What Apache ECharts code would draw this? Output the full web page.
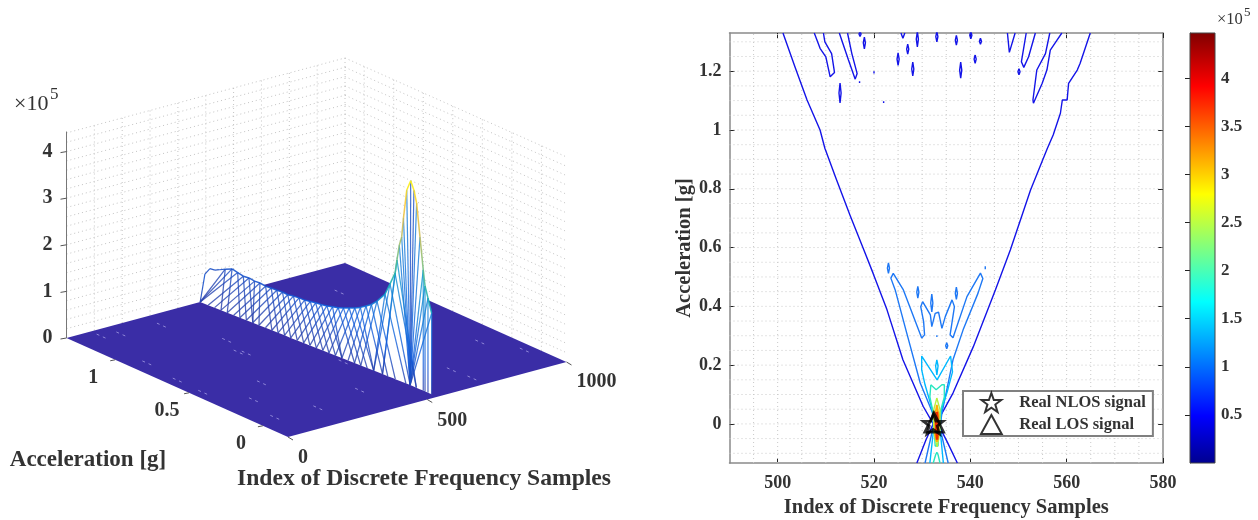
<!DOCTYPE html>
<html>
<head>
<meta charset="utf-8">
<style>
  html, body { margin: 0; padding: 0; background: #fff; }
  #chart { width: 1258px; height: 520px; }
</style>
<script src="https://cdn.jsdelivr.net/npm/echarts@6/dist/echarts.min.js"></script>
</head>
<body>
<div id="chart"></div>
<script>
const SERIF = '"Liberation Serif", "Times New Roman", serif';

// ---- left panel: mesh ridge, one entry per mesh row
const ridgeAccel = [-0.132, -0.107, -0.087, -0.075, -0.053, -0.03, -0.012, 0.01, 0.037, 0.059, 0.071, 0.087, 0.103, 0.116, 0.15, 0.184,
  0.24, 0.28, 0.32, 0.36, 0.40, 0.44, 0.48, 0.52, 0.56, 0.60, 0.64, 0.68, 0.72, 0.76, 0.80, 0.84, 0.88, 0.92, 0.96, 1.00,
  1.04, 1.08, 1.12, 1.16, 1.20, 1.24, 1.28, 1.33];
const ridgeFreq = [536, 536, 536, 536, 536, 536, 536, 536, 536, 536, 536, 536, 536, 536, 536, 536,
  537, 538, 540, 541, 542, 543, 544, 546, 547, 548, 549, 550, 552, 553, 554, 555, 556, 558, 559, 560,
  561, 562, 564, 565, 566, 567, 568, 570];
const ridgeCrest = [1.74, 2.03, 2.26, 2.59, 3.26, 3.96, 4.21, 4.38, 4.14, 3.51, 3.09, 2.89, 2.55, 2.25, 1.97, 1.70,
  1.47, 1.34, 1.25, 1.16, 1.09, 1.03, 0.97, 0.92, 0.88, 0.84, 0.81, 0.79, 0.76, 0.73, 0.72, 0.70, 0.67, 0.67, 0.65, 0.64,
  0.62, 0.63, 0.61, 0.62, 0.60, 0.62, 0.64, 0.56];
const ridgeFoot = [536, 536, 536, 536, 535, 535, 535, 534, 533, 532, 532, 531, 530, 530, 528, 527,
  525, 523, 521, 520, 518, 517, 515, 513, 512, 510, 508, 507, 505, 503, 502, 500, 499, 497, 495, 494,
  492, 490, 489, 487, 486, 484, 482, 480];
const backEdgeFreq = [480, 497, 515, 533, 550];
const backEdgeZ = [0, 0.57, 0.66, 0.6, 0.58];
const speckFreq = [277, 142, 87, 55, 314, 327, 510, 212, 109, 213, 395, 500, 906, 708, 841, 37, 33, 69, 347, 703, 965];
const speckAccel = [1.21, 1.23, 1.26, 0.89, 0.76, 0.73, 0.67, 0.41, 0.27, 0.03, 0.09, 0.40, 0.24, -0.08, 1.07, 0.65, 0.47, 0.05, 0.90, 0.05, 0.05];

const zTicks = [0, 1, 2, 3, 4];
const accelTicks = [0, 0.5, 1];
const freqTicks = [0, 500, 1000];
const wallFreqLines = [0, 100, 200, 300, 400, 500, 600, 700, 800, 900, 1000];
const wallAccelLines = [0, 0.2, 0.4, 0.6, 0.8, 1, 1.2];
const wallZLines = [0.2, 0.4, 0.6, 0.8, 1, 1.2, 1.4, 1.6, 1.8, 2, 2.2, 2.4, 2.6, 2.8, 3, 3.2, 3.4, 3.6, 3.8, 4, 4.2, 4.4];

// ---- right panel: contour pieces per level, [sample index, acceleration]
const level1 = [
  [[501.1, 1.33], [503.6, 1.214], [506.1, 1.102], [508.8, 1.0], [509.8, 0.938], [512.1, 0.836], [515.0, 0.711], [517.9, 0.592], [519.8, 0.513], [522.7, 0.388], [526.0, 0.218], [530.2, 0.06], [532.3, 0], [530.8, -0.054], [528.9, -0.133]],
  [[564.9, 1.33], [562.8, 1.227], [562.2, 1.204], [560.4, 1.159], [560.1, 1.102], [559.1, 1.102], [558.7, 1.057], [557.2, 0.983], [556, 0.938], [552.5, 0.796], [548.3, 0.592], [545.2, 0.456], [540.6, 0.262], [536.4, 0.105], [533.7, 0.024], [533.3, 0], [535.2, -0.061], [537.3, -0.133]],
  [[507.6, 1.33], [508.8, 1.278], [510, 1.249], [510.9, 1.181], [511.2, 1.179], [511.8, 1.196], [511.2, 1.26], [509.8, 1.30], [509.5, 1.33]],
  [[512.8, 1.33], [514.7, 1.238], [516.1, 1.173], [516.5, 1.192], [515.4, 1.26], [514.5, 1.33]],
  [[525.6, 1.33], [526, 1.312], [526.4, 1.33]],
  [[547.7, 1.33], [548.1, 1.264], [549.3, 1.33]],
  [[551.6, 1.33], [550.6, 1.232], [551.1, 1.213], [552.1, 1.249], [553.5, 1.33]],
  [[556.5, 1.33], [555.6, 1.26], [553.8, 1.204], [553, 1.102], [553.1, 1.091], [554.9, 1.158], [555.9, 1.204], [556.6, 1.272], [558, 1.306], [559, 1.33]]
];
// small closed islands: [sample index, lower acceleration, upper acceleration]
const level1Islands = [[512.95, 1.092, 1.160], [518, 1.276, 1.316], [517.1, 1.318, 1.335], [529, 1.283, 1.335], [527, 1.258, 1.292], [525, 1.22, 1.262],
  [528.05, 1.184, 1.231], [533.05, 1.30, 1.335], [537.1, 1.289, 1.322], [538, 1.176, 1.231], [540.1, 1.31, 1.335], [542.1, 1.292, 1.312], [541, 1.227, 1.255],
  [520, 1.192, 1.200], [517, 1.160, 1.166], [522, 1.092, 1.098], [550.1, 1.188, 1.208]];
const level2 = [
  [[530.6, -0.133], [532.3, -0.01], [532.5, 0.024], [529.6, 0.139], [526.8, 0.309], [524.4, 0.456], [523.5, 0.496], [524, 0.512], [526.1, 0.456], [529.9, 0.292], [530.5, 0.303], [530.3, 0.348], [529.7, 0.399], [530.1, 0.416],
   [531.7, 0.371], [532, 0.331], [532.7, 0.376], [533.4, 0.380], [534.1, 0.325], [534.8, 0.365], [536.2, 0.422], [536.7, 0.399], [535.8, 0.303], [536.4, 0.293], [539.3, 0.433], [542.1, 0.513], [542.6, 0.495], [541.6, 0.445],
   [538.5, 0.320], [536.4, 0.218], [534.1, 0.037], [533.7, -0.014], [535.4, -0.133]]
];
const level2Islands = [[523, 0.512, 0.548], [529.1, 0.428, 0.468], [532, 0.381, 0.442], [537.1, 0.424, 0.465], [543.1, 0.526, 0.536], [535.1, 0.256, 0.276], [533.05, 0.296, 0.302]];
const level3 = [
  [[531.6, -0.133], [532.4, -0.014], [532.1, 0.048], [530.6, 0.133], [529.9, 0.184], [529.9, 0.231], [530.3, 0.231], [533.1, 0.150], [535.9, 0.231], [536.3, 0.231], [536.3, 0.177], [535.2, 0.109], [534.0, 0.048], [533.7, -0.014], [534.4, -0.133]],
  [[533.05, 0.218], [533.3, 0.197], [533.05, 0.167], [532.8, 0.197], [533.05, 0.218]]
];
const level4 = [
  [[531.8, 0.133], [532.9, 0.116], [534.1, 0.133], [534.6, 0.133], [534.6, 0.092], [533.7, 0.037], [533.5, -0.02], [533.3, -0.075], [532.7, -0.075], [532.5, -0.02], [532.3, 0.037], [531.6, 0.092], [531.8, 0.133]],
  [[532.3, -0.133], [532.8, -0.105], [533.05, -0.097], [533.3, -0.105], [533.7, -0.133]]
];
const level5 = [[[533.05, 0.088], [533.7, 0.048], [533.7, -0.027], [533.1, -0.078], [532.4, -0.027], [532.4, 0.048], [533.05, 0.088]]];
const level6 = [[[533.05, 0.065], [533.4, 0.031], [533.4, -0.037], [533.07, -0.061], [532.7, -0.037], [532.7, 0.031], [533.05, 0.065]]];
const level7 = [[[533.05, 0.041], [533.25, 0], [533.1, -0.054], [532.9, 0], [533.05, 0.041]]];

const nlosPoint = [[532.3, 0]];
const losPoint = [[532.5, 0.004]];

const xTickValues = [500, 520, 540, 560, 580];
const yTickValues = [0, 0.2, 0.4, 0.6, 0.8, 1, 1.2];
const xGridValues = [495, 500, 505, 510, 515, 520, 525, 530, 535, 540, 545, 550, 555, 560, 565, 570, 575];
const yGridValues = [-0.1, -0.05, 0, 0.05, 0.1, 0.15, 0.2, 0.25, 0.3, 0.35, 0.4, 0.45, 0.5, 0.55, 0.6, 0.65, 0.7, 0.75, 0.8, 0.85, 0.9, 0.95, 1, 1.05, 1.1, 1.15, 1.2, 1.25, 1.3];
const cbarTicks = [0.5, 1, 1.5, 2, 2.5, 3, 3.5, 4];

const xMin = 490, xMax = 580, yMin = -0.133, yMax = 1.33;
const cbarMax = 4.47;

// ---- 3d view, fitted to the corners of the floor in the picture
const accelMin = -0.17, accelMax = 1.33;
const project = (freq, accel, z = 0) => {
    const t = (accel - accelMin) / (accelMax - accelMin);
    return [288 + 0.2785 * freq - 221.5 * t, 437 - 0.075 * freq - 99 * t - 46.6 * z];
};

const parula = ['#352a87', '#0f5cdd', '#1481d6', '#06a4ca', '#2eb7a4', '#87bf77', '#d1bb59', '#fec832', '#f9fb0e'];
const parulaAt = z => echarts.color.lerp(Math.min(z / 4.43, 1), parula);

const heightStroke = (zTop, zBottom) => new echarts.graphic.LinearGradient(0, 0, 0, 1, [0, 0.25, 0.5, 0.75, 1].map(o => ({
    offset: o,
    color: parulaAt(zTop + (zBottom - zTop) * o)
})));

// custom series of straight segments, all in the coordinates of one grid
const segmentSeries = (name, gridIndex, segs, z) => ({
    name,
    type: 'custom',
    coordinateSystem: 'cartesian2d',
    xAxisIndex: gridIndex,
    yAxisIndex: gridIndex,
    silent: true,
    z,
    data: segs.map(s => s.p),
    encode: { x: [0, 2], y: [1, 3] },
    renderItem: (params, api) => {
        const s = segs[params.dataIndex];
        const a = api.coord([s.p[0], s.p[1]]);
        const b = api.coord([s.p[2], s.p[3]]);
        return {
            type: 'line',
            shape: { x1: a[0], y1: a[1], x2: b[0], y2: b[1] },
            style: { stroke: s.stroke, lineWidth: s.width || 1, lineDash: s.dash || null, opacity: s.opacity || 1, fill: null }
        };
    }
});

const polygonSeries = (name, points, fill, z) => ({
    name,
    type: 'custom',
    coordinateSystem: 'cartesian2d',
    xAxisIndex: 0,
    yAxisIndex: 0,
    silent: true,
    z,
    data: [0],
    encode: { x: -1, y: -1 },
    renderItem: (params, api) => ({
        type: 'polygon',
        shape: { points: points.map(p => api.coord(p)) },
        style: { fill }
    })
});

const labelSeries = (name, labels, z) => ({
    name,
    type: 'custom',
    coordinateSystem: 'cartesian2d',
    xAxisIndex: 0,
    yAxisIndex: 0,
    silent: true,
    z,
    data: labels.map(l => l.p),
    encode: { x: 0, y: 1 },
    renderItem: (params, api) => {
        const l = labels[params.dataIndex];
        const c = api.coord(l.p);
        return {
            type: 'text',
            style: {
                text: l.text, x: c[0] + l.dx, y: c[1] + l.dy,
                font: 'bold 20px ' + SERIF, fill: '#333',
                textAlign: 'center', textVerticalAlign: 'middle'
            }
        };
    }
});

const seg = (p, q, extra) => Object.assign({ p: [p[0], p[1], q[0], q[1]] }, extra);

// back walls
const wallSegs = [];
const wallTop = 4.43;
const wallDot = { stroke: '#c4c4c4', dash: [1, 3] };
wallFreqLines.forEach(f => wallSegs.push(seg(project(f, accelMax), project(f, accelMax, wallTop), wallDot)));
wallAccelLines.forEach(a => wallSegs.push(seg(project(1000, a), project(1000, a, wallTop), wallDot)));
wallZLines.forEach(z => {
    wallSegs.push(seg(project(0, accelMax, z), project(1000, accelMax, z), wallDot));
    wallSegs.push(seg(project(1000, accelMax, z), project(1000, accelMin, z), wallDot));
});

// axis lines and tick marks of the box
const frameSegs = [seg(project(0, accelMax), project(0, accelMax, wallTop), { stroke: '#777' })];
zTicks.forEach(z => {
    const p = project(0, accelMax, z);
    frameSegs.push(seg(p, [p[0] - 6, p[1] + 1], { stroke: '#555' }));
});
accelTicks.forEach(a => {
    const p = project(0, a);
    frameSegs.push(seg(p, [p[0] - 5, p[1] + 1], { stroke: '#555' }));
});
freqTicks.forEach(f => {
    const p = project(f, accelMin);
    frameSegs.push(seg(p, [p[0] + 5, p[1] + 3], { stroke: '#555' }));
});

// floor specks, two short dashes each
const speckSegs = [];
speckFreq.forEach((f, i) => {
    const a = speckAccel[i];
    speckSegs.push(seg(project(f, a + 0.03), project(f, a + 0.012), { stroke: '#8f86d8' }));
    speckSegs.push(seg(project(f, a - 0.012), project(f, a - 0.03), { stroke: '#8f86d8' }));
});

// ridge mesh
const meshSegs = [];
const crestSegs = [];
const footAt = accel => {
    let j = 0;
    ridgeAccel.forEach((b, k) => { if (Math.abs(b - accel) < Math.abs(ridgeAccel[j] - accel)) j = k; });
    return project(ridgeFoot[j], ridgeAccel[j]);
};
const peakFootAccel = 0.01;
const crestColorZ = z => (z < 1.5 ? z * 0.72 : z);
ridgeAccel.forEach((a, i) => {
    const z = ridgeCrest[i];
    const crest = project(ridgeFreq[i], a, z);
    const top = Math.min(z * 0.62, 2);
    const line = { stroke: heightStroke(top, 0.2), width: 1.25, opacity: 0.8 };

    if (a > -0.06 && a < 0.09) {
        // main lobe: thin verticals down to one point, the rest stays white
        const dark = a > -0.02 && a < 0.02;
        meshSegs.push(seg(crest, footAt(peakFootAccel), { stroke: heightStroke(dark ? 0.4 : 1.1, 0.4), width: 1.2, opacity: 0.8 }));
    } else if (a <= -0.06) {
        // near side lobe: fan to the peak foot, plus a vertical edge
        meshSegs.push(seg(footAt(peakFootAccel), crest, line));
        meshSegs.push(seg(crest, footAt(a), line));
    } else {
        // lines of constant acceleration climb the near side of the ridge
        meshSegs.push(seg(footAt(a + 0.07), crest, line));
        // lines of constant frequency fall off the crest towards the front
        meshSegs.push(seg(crest, footAt(a - 0.14), line));
    }

    if (i > 0) {
        const prev = project(ridgeFreq[i - 1], ridgeAccel[i - 1], ridgeCrest[i - 1]);
        const hi = crestColorZ(Math.max(z, ridgeCrest[i - 1]));
        const low = crestColorZ(Math.min(z, ridgeCrest[i - 1]));
        crestSegs.push(seg(prev, crest, { stroke: heightStroke(hi, low), width: 1.5, opacity: 0.9 }));
    }
});
const backEdge = backEdgeFreq.map((f, i) => project(f, accelMax, backEdgeZ[i]));
backEdge.forEach((p, i) => {
    const q = i + 1 < backEdge.length ? backEdge[i + 1] : project(ridgeFreq[ridgeFreq.length - 1], ridgeAccel[ridgeAccel.length - 1], ridgeCrest[ridgeCrest.length - 1]);
    crestSegs.push(seg(p, q, { stroke: heightStroke(0.5, 0.3), width: 1.2, opacity: 0.9 }));
});

const wallOutline = [
    ...ridgeAccel.map((a, i) => project(ridgeFoot[i], a)),
    ...backEdge,
    ...ridgeAccel.map((a, i) => project(ridgeFreq[i], a, ridgeCrest[i])).reverse()
];

const floorCorners = [project(0, accelMin), project(1000, accelMin), project(1000, accelMax), project(0, accelMax)];

const axisLabels = [
    ...zTicks.map(z => ({ text: String(z), p: project(0, accelMax, z), dx: -19, dy: 0 })),
    ...accelTicks.map(a => ({ text: String(a), p: project(0, a), dx: -22, dy: 18 })),
    { text: '0', p: project(0, accelMin), dx: 15, dy: 21 },
    { text: '500', p: project(500, accelMin), dx: 25, dy: 21 },
    { text: '1000', p: project(1000, accelMin), dx: 30, dy: 20 }
];

// right panel grid lines
const gridDot = { stroke: '#c9c9c9', dash: [1, 3] };
const gridSegs = [
    ...xGridValues.map(v => seg([v, yMin], [v, yMax], gridDot)),
    ...yGridValues.map(v => seg([xMin, v], [xMax, v], gridDot))
];

// closed diamond around an island
const island = ([x, lo, hi]) => [[x, hi], [x + 0.22, (lo + hi) / 2], [x, lo], [x - 0.22, (lo + hi) / 2], [x, hi]];

const contourSeries = (pieces, color, width = 1.4) => pieces.map((data, i) => ({
    name: color + i,
    type: 'line',
    xAxisIndex: 1,
    yAxisIndex: 1,
    showSymbol: false,
    symbol: 'none',
    silent: true,
    z: 4,
    data,
    lineStyle: { color, width },
    smooth: false
}));

const STAR = 'path://M50 2 L62 36 L98 36 L69 58 L80 94 L50 73 L20 94 L31 58 L2 36 L38 36 Z';
const TRIANGLE = 'path://M50 4 L98 92 L2 92 Z';

const axisTextStyle = { fontFamily: SERIF, fontWeight: 'bold', fontSize: 18, color: '#333' };
const titleStyle = { fontFamily: SERIF, fontWeight: 'bold', fontSize: 20.5, color: '#333' };
const frameLine = { show: true, onZero: false, lineStyle: { color: '#8a8a8a', width: 1.5 } };

const chart = echarts.init(document.getElementById('chart'));
chart.setOption({
    animation: false,
    backgroundColor: '#fff',
    tooltip: { show: false },
    grid: [
        { left: 0, top: 0, width: 640, height: 520, show: false, outerBoundsMode: 'none' },
        { left: 729.5, top: 33, width: 433.5, height: 430, show: false, outerBoundsMode: 'none' },
        { left: 1190, top: 33, width: 25, height: 430, show: false, outerBoundsMode: 'none' }
    ],
    xAxis: [
        { gridIndex: 0, type: 'value', min: 0, max: 640, show: false },
        {
            gridIndex: 1, type: 'value', min: xMin, max: xMax, position: 'bottom',
            name: 'Index of Discrete Frequency Samples', nameLocation: 'middle', nameGap: 34, nameTextStyle: titleStyle,
            axisLine: frameLine,
            axisTick: { show: true, inside: true, length: 5, customValues: xTickValues, lineStyle: { color: '#222' } },
            axisLabel: Object.assign({ customValues: xTickValues, margin: 11, showMaxLabel: true }, axisTextStyle),
            splitLine: { show: false }
        },
        {
            gridIndex: 1, type: 'value', min: xMin, max: xMax, position: 'top',
            axisLine: frameLine,
            axisTick: { show: true, inside: true, length: 5, customValues: xTickValues, lineStyle: { color: '#222' } },
            axisLabel: { show: false },
            splitLine: { show: false }
        },
        { gridIndex: 2, type: 'value', min: 0, max: 1, show: false }
    ],
    yAxis: [
        { gridIndex: 0, type: 'value', min: 0, max: 520, inverse: true, show: false },
        {
            gridIndex: 1, type: 'value', min: yMin, max: yMax, position: 'left',
            name: 'Acceleration [g]', nameLocation: 'middle', nameGap: 34, nameRotate: 90, nameTextStyle: titleStyle,
            axisLine: frameLine,
            axisTick: { show: true, inside: true, length: 5, customValues: yTickValues, lineStyle: { color: '#222' } },
            axisLabel: Object.assign({ customValues: yTickValues, margin: 8 }, axisTextStyle),
            splitLine: { show: false }
        },
        {
            gridIndex: 1, type: 'value', min: yMin, max: yMax, position: 'right',
            axisLine: frameLine,
            axisTick: { show: true, inside: true, length: 5, customValues: yTickValues, lineStyle: { color: '#222' } },
            axisLabel: { show: false },
            splitLine: { show: false }
        },
        {
            gridIndex: 2, type: 'value', min: 0, max: cbarMax, position: 'right',
            axisLine: { show: true, lineStyle: { color: '#555' } },
            axisTick: { show: true, inside: true, length: 5, customValues: cbarTicks, lineStyle: { color: '#222' } },
            axisLabel: Object.assign({ customValues: cbarTicks, margin: 6 }, axisTextStyle, { fontSize: 17 }),
            splitLine: { show: false }
        }
    ],
    legend: {
        show: true,
        orient: 'vertical',
        left: 963,
        top: 391,
        padding: [1, 7, 1, 17],
        itemGap: 1,
        itemWidth: 46,
        itemHeight: 19,
        backgroundColor: '#fff',
        borderColor: '#808080',
        borderWidth: 2,
        data: ['Real NLOS signal', 'Real LOS signal'],
        textStyle: { fontFamily: SERIF, fontWeight: 'bold', fontSize: 16.5, color: '#333' }
    },
    graphic: [
        { type: 'text', x: 88, y: 460, style: { text: 'Acceleration [g]', font: 'bold 23px ' + SERIF, fill: '#333', textAlign: 'center', textVerticalAlign: 'middle' } },
        { type: 'text', x: 424, y: 479, style: { text: 'Index of Discrete Frequency Samples', font: 'bold 23.6px ' + SERIF, fill: '#333', textAlign: 'center', textVerticalAlign: 'middle' } },
        { type: 'text', x: 14, y: 104, style: { text: '×10', font: '22px ' + SERIF, fill: '#333', textVerticalAlign: 'middle' } },
        { type: 'text', x: 50, y: 95, style: { text: '5', font: '17px ' + SERIF, fill: '#333', textVerticalAlign: 'middle' } },
        { type: 'text', x: 1217, y: 20, style: { text: '×10', font: '16.5px ' + SERIF, fill: '#333', textVerticalAlign: 'middle' } },
        { type: 'text', x: 1244, y: 13, style: { text: '5', font: '13px ' + SERIF, fill: '#333', textVerticalAlign: 'middle' } }
    ],
    series: [
        segmentSeries('walls', 0, wallSegs, 1),
        polygonSeries('floor', floorCorners, '#3a2da6', 2),
        segmentSeries('specks', 0, speckSegs, 3),
        segmentSeries('frame', 0, frameSegs, 3),
        polygonSeries('wall', wallOutline, '#ffffff', 4),
        segmentSeries('mesh', 0, meshSegs, 5),
        segmentSeries('crest', 0, crestSegs, 6),
        labelSeries('axis labels', axisLabels, 7),

        segmentSeries('grid lines', 1, gridSegs, 2),
        ...contourSeries([...level1, ...level1Islands.map(island)], '#1414e8'),
        ...contourSeries([...level2, ...level2Islands.map(island)], '#1e78f5'),
        ...contourSeries(level3, '#00b8ff'),
        ...contourSeries(level4, '#28e6c0'),
        ...contourSeries(level5, '#b8f040'),
        ...contourSeries(level6, '#ffb000', 1.8),
        ...contourSeries(level7, '#f03000', 2.6),
        {
            name: 'Real NLOS signal', type: 'scatter', xAxisIndex: 1, yAxisIndex: 1, z: 6, data: nlosPoint,
            symbol: STAR, symbolSize: 20,
            itemStyle: { color: 'rgba(255,255,255,0)', borderColor: '#000', borderWidth: 2.6 }
        },
        {
            name: 'Real LOS signal', type: 'scatter', xAxisIndex: 1, yAxisIndex: 1, z: 6, data: losPoint,
            symbol: TRIANGLE, symbolSize: 19,
            itemStyle: { color: 'rgba(255,255,255,0)', borderColor: '#000', borderWidth: 2.6 }
        },
        {
            name: 'colorbar', type: 'custom', coordinateSystem: 'cartesian2d', xAxisIndex: 3, yAxisIndex: 3, silent: true,
            data: [[0, 0, 1, cbarMax]],
            encode: { x: [0, 2], y: [1, 3] },
            renderItem: (params, api) => {
                const a = api.coord([0, cbarMax]);
                const b = api.coord([1, 0]);
                return {
                    type: 'rect',
                    shape: { x: a[0], y: a[1], width: b[0] - a[0], height: b[1] - a[1] },
                    style: {
                        fill: new echarts.graphic.LinearGradient(0, 1, 0, 0, [
                            { offset: 0, color: '#00008f' },
                            { offset: 0.11, color: '#0000ff' },
                            { offset: 0.375, color: '#00ffff' },
                            { offset: 0.625, color: '#ffff00' },
                            { offset: 0.875, color: '#ff0000' },
                            { offset: 1, color: '#800000' }
                        ]),
                        stroke: '#444',
                        lineWidth: 1
                    }
                };
            }
        }
    ]
});
</script>
</body>
</html>
